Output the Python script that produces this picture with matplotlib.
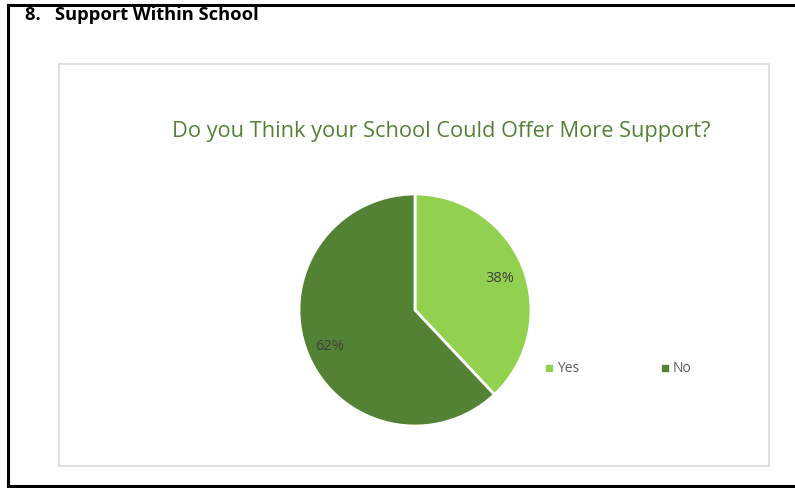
import numpy as np
import matplotlib.pyplot as plt
from matplotlib.patches import Rectangle
from matplotlib.lines import Line2D

labels = ['Yes', 'No']
values = [38, 62]
colors = ['#92D050', '#548235']

W, H = 795, 488
fig = plt.figure(figsize=(W / 100, H / 100), dpi=100)
fig.patch.set_facecolor('white')

def fx(x):
    return x / W

def fy(y):
    return 1 - y / H

# outer page border (top, left, bottom)
for xs, ys in [([8, 795], [5, 5]), ([8, 8], [5, 486]), ([8, 795], [486, 486])]:
    fig.add_artist(Line2D([fx(v) for v in xs], [fy(v) for v in ys],
                          color='black', lw=2.2, transform=fig.transFigure))

# chart area box
fig.add_artist(Rectangle((fx(59), fy(466)), fx(769) - fx(59), fy(64) - fy(466),
                         fill=False, edgecolor='#d9d9d9', lw=1.2,
                         transform=fig.transFigure))

fig.text(fx(25), fy(15), '8.   Support Within School', fontsize=13.2, fontweight='bold',
         family='Open Sans', va='center', ha='left', color='black')

fig.text(fx(441), fy(131), 'Do you Think your School Could Offer More Support?',
         fontsize=15.7, family='Open Sans', color='#548235', va='center', ha='center')

cx, cy, r = 415, 310, 116
ax = fig.add_axes([fx(cx - r), fy(cy + r), 2 * r / W, 2 * r / H])
wedges = ax.pie(values, colors=colors, startangle=90, counterclock=False,
                wedgeprops=dict(edgecolor='white', linewidth=2))[0]
for w, v in zip(wedges, values):
    ang = np.deg2rad((w.theta1 + w.theta2) / 2)
    ax.text(0.79 * np.cos(ang), 0.79 * np.sin(ang) - 0.02, f'{v}%', ha='center', va='center',
            fontsize=10.5, family='Open Sans', color='#404040')
ax.set_xlim(-1, 1)
ax.set_ylim(-1, 1)
ax.set_aspect('equal')
ax.axis('off')

# legend
for (lx, name), c in zip([(549, 'Yes'), (665, 'No')], colors):
    fig.add_artist(Rectangle((fx(lx - 3), fy(371)), 6 / W, 6 / H, color=c,
                             transform=fig.transFigure))
    fig.text(fx(lx + 8), fy(368), name, fontsize=10, family='Open Sans',
             color='#595959', va='center', ha='left')

fig.savefig('out.png', dpi=100)
